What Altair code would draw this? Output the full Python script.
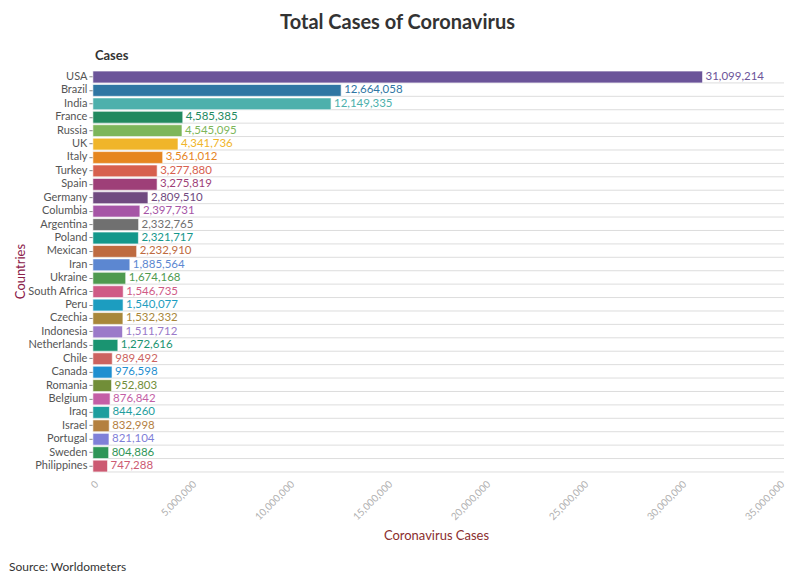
import altair as alt
import pandas as pd

countries = ["USA", "Brazil", "India", "France", "Russia", "UK", "Italy", "Turkey", "Spain",
             "Germany", "Columbia", "Argentina", "Poland", "Mexican", "Iran", "Ukraine",
             "South Africa", "Peru", "Czechia", "Indonesia", "Netherlands", "Chile", "Canada",
             "Romania", "Belgium", "Iraq", "Israel", "Portugal", "Sweden", "Philippines"]
cases = [31099214, 12664058, 12149335, 4585385, 4545095, 4341736, 3561012, 3277880, 3275819,
         2809510, 2397731, 2332765, 2321717, 2232910, 1885564, 1674168,
         1546735, 1540077, 1532332, 1511712, 1272616, 989492, 976598,
         952803, 876842, 844260, 832998, 821104, 804886, 747288]
colors = ["#6B5499", "#2F76A3", "#4DB0AC", "#22895F", "#7DB65A", "#F0B52A", "#E6861F", "#D7604E",
          "#9E3F78", "#704A80", "#A655A6", "#707070", "#14978B", "#BE6B40", "#5C87D1", "#4E9A4F",
          "#CF5B86", "#1C9DC0", "#A8873A", "#9B7AC9", "#1A9471", "#CC6360", "#1F8FD0", "#718E38",
          "#C45FA6", "#1E9E9E", "#B4803F", "#7F80D8", "#2F9657", "#CC5A72"]
x_ticks = [0, 5000000, 10000000, 15000000, 20000000, 25000000, 30000000, 35000000]

df = pd.DataFrame({"country": countries, "cases": cases})

FONT = "Lato"

yaxis = alt.Axis(title="Countries", titleColor="#8B2049", titleFontSize=13,
                 titleFontWeight="normal", titleX=-72, titleY=201, titleAngle=-90,
                 titleAlign="center", titleBaseline="middle",
                 labelColor="#555555", labelFontSize=11, domain=False,
                 tickColor="#888888", tickSize=4, grid=False)
xaxis = alt.Axis(title="Coronavirus Cases", titleColor="#8B2E2E", titleFontSize=13,
                 titleFontWeight="normal", titlePadding=8,
                 values=x_ticks, labelExpr="format(datum.value, ',')", labelAngle=-45,
                 labelAlign="right", labelBaseline="top", labelColor="#b0b0b0",
                 labelFontSize=10, domain=False, ticks=False, grid=False, labelPadding=6)

yscale = alt.Scale(domain=countries, paddingInner=0.12, paddingOuter=0.06)
xscale = alt.Scale(domain=[0, 35000000], nice=False)

yenc = alt.Y("country:N", sort=countries, scale=yscale, axis=yaxis)
xenc = alt.X("cases:Q", scale=xscale, axis=xaxis)
colenc = alt.Color("country:N", scale=alt.Scale(domain=countries, range=colors), legend=None)

base = alt.Chart(df)

grid = base.mark_rule(color="#dddddd", strokeWidth=1).encode(
    y=alt.Y("country:N", sort=countries, scale=yscale, axis=yaxis, bandPosition=1),
    x=alt.value(0),
    x2=alt.value(692),
)

bars = base.mark_bar(stroke="white", strokeWidth=1, strokeOpacity=0.6).encode(
    y=yenc, x=xenc, color=colenc
)

labels = base.mark_text(align="left", baseline="middle", dx=3, fontSize=11.5, font=FONT).encode(
    y=yenc,
    x=xenc,
    text=alt.Text("cases:Q", format=","),
    color=colenc,
)

cases_title = alt.Chart(alt.Data(values=[{}])).mark_text(
    text="Cases", align="left", baseline="middle", fontSize=13, fontWeight="bold",
    font=FONT, color="#333333"
).encode(x=alt.value(2), y=alt.value(-14))

source = alt.Chart(alt.Data(values=[{}])).mark_text(
    text="Source: Worldometers", align="left", baseline="middle", fontSize=12,
    font=FONT, color="#333333"
).encode(x=alt.value(-84), y=alt.value(497))

chart = alt.layer(grid, bars, labels, cases_title, source).properties(
    width=687, height=403,
    title=alt.Title("Total Cases of Coronavirus", fontSize=20, fontWeight="bold",
                    color="#333333", font=FONT, anchor="middle", frame="bounds", offset=17),
    autosize=alt.AutoSizeParams(type="none"),
    padding={"left": 85, "top": 62, "right": 12, "bottom": 106},
).configure(font=FONT).configure_view(stroke=None).configure_axis(
    labelFont=FONT, titleFont=FONT
)

chart.save("out.html", embed_options={"renderer": "svg", "actions": False})
